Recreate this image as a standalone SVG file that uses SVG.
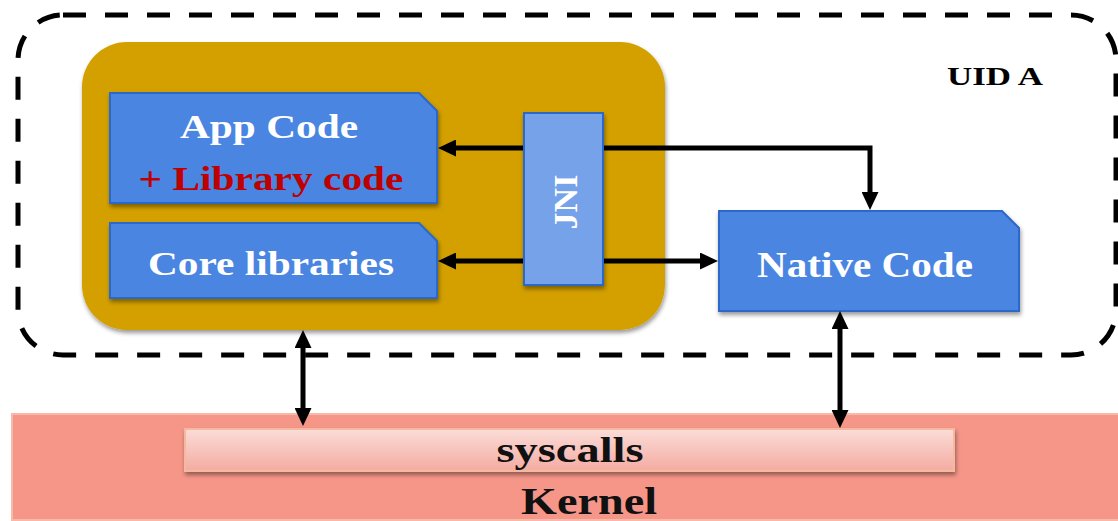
<svg xmlns="http://www.w3.org/2000/svg" width="1118" height="521" viewBox="0 0 1118 521">
<style>
  .t { font-family: "Liberation Serif", "Times New Roman", serif; font-weight: bold; text-anchor: middle; }
  .w { fill: #ffffff; }
  .blue { fill: #4A85E1; stroke: #2C69C9; stroke-width: 2; }
  .conn { fill: none; stroke: #000; stroke-width: 5; }
</style>
<defs>
  <filter id="sh" x="-10%" y="-10%" width="130%" height="140%">
    <feDropShadow dx="1" dy="3" stdDeviation="2" flood-color="#000" flood-opacity="0.4"/>
  </filter>
  <linearGradient id="sg" x1="0" y1="0" x2="0" y2="1">
    <stop offset="0" stop-color="#FBDCD8"/>
    <stop offset="1" stop-color="#F4ACA2"/>
  </linearGradient>
  <marker id="ah" viewBox="0 0 18 17" refX="0" refY="8.5" markerWidth="18" markerHeight="17" markerUnits="userSpaceOnUse" orient="auto-start-reverse">
    <path d="M0,0 L18,8.5 L0,17 z" fill="#000"/>
  </marker>
</defs>

<g id="kernel">
  <rect x="12" y="414" width="1120" height="106" fill="#F69689" stroke="#F9B9A9" stroke-width="2"/>
  <text class="t" x="589" y="514" font-size="38" textLength="136" lengthAdjust="spacingAndGlyphs" fill="#111">Kernel</text>
</g>
<g id="syscalls">
  <rect x="185" y="429" width="769" height="42" fill="url(#sg)" stroke="#F5B9A0" stroke-width="2" filter="url(#sh)"/>
  <text class="t" x="570" y="462" font-size="36" textLength="147" lengthAdjust="spacingAndGlyphs" fill="#111">syscalls</text>
</g>

<g id="uid-a">
  <rect x="18" y="15" width="1098" height="340" rx="45" ry="45" fill="none" stroke="#000" stroke-width="5" stroke-dasharray="23 19"/>
  <text class="t" x="995" y="85" font-size="26" textLength="96" lengthAdjust="spacingAndGlyphs" fill="#000">UID A</text>
</g>

<g id="app-process">
  <rect x="82" y="42" width="583" height="288" rx="45" ry="45" fill="#D3A000" filter="url(#sh)"/>
</g>

<g id="app-code">
  <path class="blue" d="M110,93 H419 L437,111 V203 H110 Z" filter="url(#sh)"/>
  <text class="t w" x="269" y="138" font-size="34" textLength="178" lengthAdjust="spacingAndGlyphs">App Code</text>
  <text class="t" x="271" y="190" font-size="34" textLength="265" lengthAdjust="spacingAndGlyphs" fill="#C00000">+ Library code</text>
</g>

<g id="core-libraries">
  <path class="blue" d="M110,223 H419 L437,241 V298 H110 Z" filter="url(#sh)"/>
  <text class="t w" x="271" y="275" font-size="34" textLength="246" lengthAdjust="spacingAndGlyphs">Core libraries</text>
</g>

<g id="native-code">
  <path class="blue" d="M719,211 H1002 L1019,228 V311 H719 Z" filter="url(#sh)"/>
  <text class="t w" x="865" y="277" font-size="36" textLength="216" lengthAdjust="spacingAndGlyphs">Native Code</text>
</g>

<g id="connectors">
  <path class="conn" d="M456,148 H870 V192" marker-start="url(#ah)" marker-end="url(#ah)"/>
  <path class="conn" d="M456,261 H700" marker-start="url(#ah)" marker-end="url(#ah)"/>
  <path class="conn" d="M303,348 V408" marker-start="url(#ah)" marker-end="url(#ah)"/>
  <path class="conn" d="M840,329 V410" marker-start="url(#ah)" marker-end="url(#ah)"/>
</g>

<g id="jni">
  <rect x="524" y="113" width="79" height="172" fill="#76A2EA" stroke="#2C69C9" stroke-width="2" filter="url(#sh)"/>
  <text class="t w" x="0" y="0" font-size="34" transform="translate(577,202) rotate(-90)">JNI</text>
</g>
</svg>
